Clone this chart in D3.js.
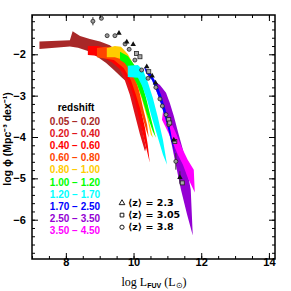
<!DOCTYPE html>
<html><head><meta charset="utf-8">
<script src="https://cdn.jsdelivr.net/npm/d3@7"></script>
<style>body{margin:0;background:#fff}svg{display:block}</style>
</head><body>
<svg id="c" width="291" height="291"></svg>
<script>
// ---- data ----
const zBins = ["0.05 − 0.20","0.20 − 0.40","0.40 − 0.60","0.60 − 0.80","0.80 − 1.00","1.00 − 1.20","1.20 − 1.70","1.70 − 2.50","2.50 − 3.50","3.50 − 4.50"];
const zColors = ["#a82828","#e0141c","#ff0000","#ff4500","#ffcc00","#00ff00","#00ffff","#0000ff","#9400d3","#ff00ff"];
// band outlines [log L, log phi]
const band0 = [[7.22,-1.69],[8.12,-1.66],[8.20,-1.44],[8.42,-1.56],[8.71,-1.63],[9.01,-1.69],[9.30,-1.78],[9.54,-1.94],[9.72,-2.19],[9.83,-2.43],[9.83,-2.69],[9.66,-2.57],[9.42,-2.38],[9.19,-2.21],[8.95,-2.07],[8.65,-1.92],[8.36,-1.84],[8.12,-1.81],[7.22,-1.87]];
const band1 = [[8.71,-1.82],[9.30,-1.90],[9.66,-2.09],[9.89,-2.43],[10.01,-2.81],[10.13,-3.29],[10.25,-3.78],[10.37,-4.26],[10.34,-4.35],[10.19,-3.94],[10.04,-3.46],[9.89,-2.98],[9.74,-2.62],[9.54,-2.28],[9.24,-2.09],[8.71,-1.99]];
const band2 = [[8.65,-1.80],[8.92,-1.80],[9.24,-1.85],[9.54,-1.97],[9.78,-2.19],[9.95,-2.50],[10.10,-2.91],[10.22,-3.34],[10.34,-3.78],[10.42,-4.19],[10.48,-4.62],[10.40,-4.35],[10.28,-3.94],[10.16,-3.53],[10.04,-3.10],[9.89,-2.74],[9.69,-2.43],[9.36,-2.19],[9.01,-2.04],[8.65,-2.02]];
const band3 = [[8.92,-1.85],[9.21,-1.82],[9.54,-1.90],[9.81,-2.09],[10.01,-2.43],[10.16,-2.86],[10.28,-3.29],[10.40,-3.70],[10.45,-4.02],[10.37,-3.82],[10.22,-3.39],[10.07,-2.98],[9.92,-2.62],[9.71,-2.33],[9.42,-2.14],[8.92,-2.07]];
const band4 = [[9.21,-1.85],[9.45,-1.80],[9.63,-1.82],[9.83,-1.99],[10.01,-2.26],[10.16,-2.62],[10.31,-3.10],[10.45,-3.58],[10.57,-4.02],[10.51,-3.94],[10.40,-3.53],[10.25,-3.10],[10.10,-2.72],[9.92,-2.38],[9.71,-2.14],[9.45,-2.07],[9.21,-2.07]];
const band5 = [[9.60,-1.94],[9.83,-2.04],[10.04,-2.28],[10.22,-2.62],[10.37,-3.05],[10.51,-3.53],[10.66,-4.02],[10.57,-3.87],[10.40,-3.46],[10.25,-3.05],[10.10,-2.72],[9.92,-2.43],[9.74,-2.21],[9.60,-2.14]];
const band6 = [[9.83,-2.28],[10.13,-2.26],[10.28,-2.38],[10.42,-2.67],[10.57,-3.05],[10.72,-3.53],[10.87,-4.07],[10.99,-4.67],[10.87,-4.43],[10.72,-4.02],[10.54,-3.53],[10.40,-3.10],[10.25,-2.76],[10.13,-2.57],[9.83,-2.55]];
const band7 = [[10.31,-2.31],[10.48,-2.43],[10.66,-2.67],[10.81,-2.98],[10.93,-3.29],[11.04,-3.63],[11.13,-4.02],[11.25,-4.50],[11.19,-4.31],[11.04,-3.87],[10.93,-3.53],[10.81,-3.20],[10.69,-2.91],[10.54,-2.62],[10.37,-2.45]];
const band8 = [[10.57,-2.62],[10.78,-2.74],[10.96,-2.93],[11.07,-3.17],[11.19,-3.49],[11.31,-3.87],[11.46,-4.31],[11.58,-4.79],[11.69,-5.27],[11.75,-6.38],[11.58,-5.87],[11.40,-5.27],[11.28,-4.79],[11.13,-4.19],[10.96,-3.58],[10.78,-3.10],[10.63,-2.81]];
const band9 = [[10.87,-3.39],[11.07,-3.58],[11.25,-3.90],[11.43,-4.26],[11.60,-4.55],[11.78,-4.79],[11.81,-5.34],[11.60,-4.98],[11.46,-4.67],[11.31,-4.43],[11.13,-4.07],[10.96,-3.78],[10.84,-3.58]];
const bands = [band0,band1,band2,band3,band4,band5,band6,band8,band9,band7];
const bandColorIdx = [0,1,2,3,4,5,6,8,9,7];
// points [log L, log phi, err]
const tri23 = [[9.57,-1.49,0],[9.80,-1.70,0],[9.99,-1.76,0],[10.39,-2.30,0],[10.55,-2.52,0],[10.65,-2.69,0],[11.19,-4.07,0],[11.37,-4.98,0.15]];
const sq305 = [[10.09,-1.98,0],[10.19,-2.06,0],[10.45,-2.42,0],[11.04,-3.58,0],[11.07,-3.66,0],[11.22,-4.11,0],[11.44,-5.11,0]];
const circ38 = [[8.80,-1.20,0.1],[9.05,-1.13,0],[9.22,-1.55,0],[9.45,-1.55,0],[9.75,-1.75,0],[9.87,-1.88,0],[10.04,-2.14,0],[10.24,-2.38,0],[10.43,-2.58,0],[10.66,-2.80,0],[10.78,-3.08,0],[10.85,-3.25,0],[10.96,-3.46,0],[11.04,-3.70,0],[11.25,-4.59,0.2]];
const symLabels = ["⟨z⟩ = 2.3","⟨z⟩ = 3.05","⟨z⟩ = 3.8"];
const xMajor = [8,10,12,14];
const yMajor = [-2,-3,-4,-5,-6];

// ---- layout ----
const svg = d3.select("#c");
const x = d3.scaleLinear().domain([7,14.18]).range([32,275]);
const y = d3.scaleLinear().domain([-6.95,-1.05]).range([259,15]);
const xMinor = d3.range(7,14.2,0.5);
const yMinor = d3.range(-7,-0.99,0.2).map(v=>+v.toFixed(1)).filter(v=>v>=-6.95&&v<=-1.05);

const line = d3.line().x(d=>x(d[0])).y(d=>y(d[1]));
const gB = svg.append("g");
bands.forEach((b,i)=>{
  gB.append("path").attr("d",line(b)+"Z").attr("fill",zColors[bandColorIdx[i]]).attr("stroke","none");
});

// points
const gP = svg.append("g");
function errs(arr){
  arr.filter(d=>d[2]>0).forEach(d=>{
    gP.append("line").attr("x1",x(d[0])).attr("x2",x(d[0])).attr("y1",y(d[1]-d[2])).attr("y2",y(d[1]+d[2])).attr("stroke","#333").attr("stroke-width",1);
  });
}
errs(tri23);errs(sq305);errs(circ38);
gP.selectAll(".c").data(circ38).join("circle").attr("cx",d=>x(d[0])).attr("cy",d=>y(d[1])).attr("r",2.0).attr("fill","#999").attr("stroke","#222").attr("stroke-width",0.8);
gP.selectAll(".s").data(sq305).join("rect").attr("x",d=>x(d[0])-2).attr("y",d=>y(d[1])-2).attr("width",4).attr("height",4).attr("fill","#aaa").attr("stroke","#222").attr("stroke-width",0.8);
const triSym = d3.symbol().type(d3.symbolTriangle).size(13);
gP.selectAll(".t").data(tri23).join("path").attr("d",triSym).attr("transform",d=>`translate(${x(d[0])},${y(d[1])})`).attr("fill","#111");

// axes
function ax(gen, tr, vals, size, labels){
  const g = svg.append("g").attr("transform",tr).call(gen.tickValues(vals).tickSize(size).tickPadding(5).tickFormat(labels?d3.format("d"):""));
  g.select(".domain").remove();
  g.selectAll("line").attr("stroke","#000").attr("stroke-width",1);
  g.selectAll("text").attr("font-family","Liberation Sans, Arial, sans-serif").attr("font-size",11).attr("font-weight","bold").attr("fill","#000");
  return g;
}
ax(d3.axisBottom(x),"translate(0,259)",xMajor,-6,true).selectAll("text").attr("dy","0.2em");
ax(d3.axisBottom(x),"translate(0,259)",xMinor,-3,false);
ax(d3.axisTop(x),"translate(0,15)",xMajor,-6,false);
ax(d3.axisTop(x),"translate(0,15)",xMinor,-3,false);
ax(d3.axisLeft(y),"translate(32,0)",yMajor,-6,true).selectAll("text").attr("dx","-0.1em");
ax(d3.axisLeft(y),"translate(32,0)",yMinor,-3,false);
ax(d3.axisRight(y),"translate(275,0)",yMajor,-6,false);
ax(d3.axisRight(y),"translate(275,0)",yMinor,-3,false);
svg.append("rect").attr("x",32).attr("y",15).attr("width",243).attr("height",244).attr("fill","none").attr("stroke","#000").attr("stroke-width",1.5);

// axis titles
const xt = svg.append("text").attr("x",154).attr("y",286).attr("text-anchor","middle").attr("font-family","Liberation Serif, Times New Roman, serif").attr("font-size",12).attr("fill","#000");
xt.append("tspan").text("log L");
xt.append("tspan").attr("font-size",7).attr("dy",2).attr("font-family","Liberation Sans, sans-serif").attr("font-weight","bold").text("FUV");
xt.append("tspan").attr("dy",-2).text(" (L");
xt.append("tspan").attr("font-size",8).attr("dy",2).text("⊙");
xt.append("tspan").attr("dy",-2).text(")");
svg.append("text").attr("transform","translate(11,139) rotate(-90)").attr("text-anchor","middle").attr("font-family","Liberation Sans, Arial, sans-serif").attr("font-size",10.5).attr("font-weight","bold").attr("fill","#000").text("log ϕ (Mpc⁻³ dex⁻¹)");

// legend
const lf = "Liberation Sans, Arial, sans-serif";
svg.append("text").attr("x",76).attr("y",111).attr("text-anchor","middle").attr("font-family",lf).attr("font-size",10).attr("font-weight","bold").attr("fill","#000").text("redshift");
svg.selectAll(".lg").data(zBins).join("text").attr("x",75).attr("y",(d,i)=>125+i*12.1).attr("text-anchor","middle").attr("font-family",lf).attr("font-size",10).attr("font-weight","bold").attr("fill",(d,i)=>zColors[i]).text(d=>d);
const symTypes = [d3.symbolTriangle, d3.symbolSquare, d3.symbolCircle];
symLabels.forEach((t,i)=>{
  const yy = 206+i*12.1;
  svg.append("path").attr("d",d3.symbol().type(symTypes[i]).size(14)()).attr("transform",`translate(122,${yy-3})`).attr("fill","none").attr("stroke","#000").attr("stroke-width",0.9);
  svg.append("text").attr("x",128).attr("y",yy).attr("font-family","DejaVu Sans, sans-serif").attr("font-size",9.5).attr("font-weight","bold").attr("fill","#000").text(t);
});
</script>
</body></html>
